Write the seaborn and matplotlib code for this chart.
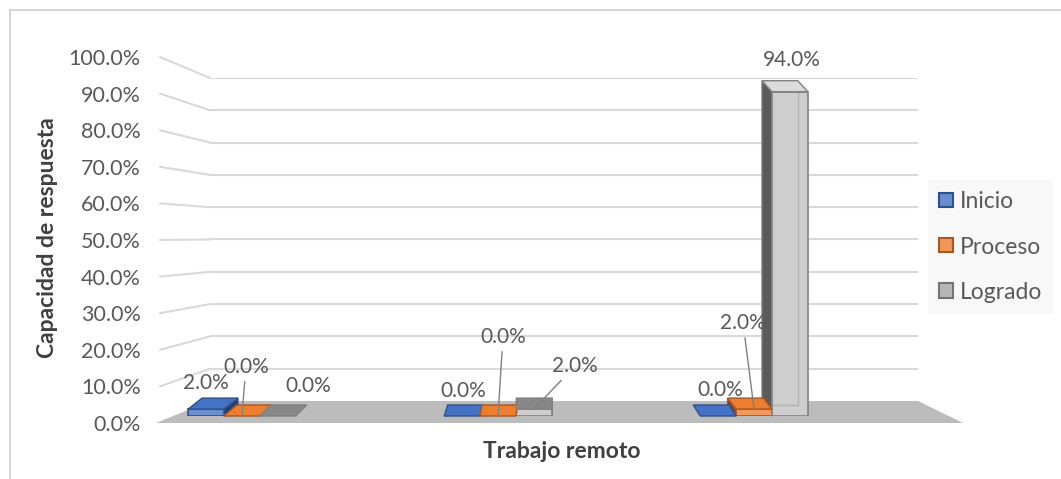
import numpy as np
import pandas as pd
import matplotlib
matplotlib.use("Agg")
import matplotlib.pyplot as plt
import matplotlib.colors as mcolors
from matplotlib.patches import Polygon, Patch, ConnectionPatch
from matplotlib.lines import Line2D
import seaborn as sns

# ---------------- data ----------------
categories = ["1", "2", "3"]
series = ["Inicio", "Proceso", "Logrado"]
inicio = [2.0, 0.0, 0.0]
proceso = [0.0, 0.0, 2.0]
logrado = [0.0, 2.0, 94.0]
y_ticks = [0, 10, 20, 30, 40, 50, 60, 70, 80, 90, 100]
y_tick_labels = ["0.0%", "10.0%", "20.0%", "30.0%", "40.0%", "50.0%",
                 "60.0%", "70.0%", "80.0%", "90.0%", "100.0%"]
y_title = "Capacidad de respuesta"
x_title = "Trabajo remoto"

# ---------------- style ----------------
colors = ["#4472C4", "#ED7D31", "#A5A5A5"]
front_mix = [0.2, 0.2, 0.45]
edge_mix = [0.3, 0.3, 0.22]
TEXT = "#595959"
FONT = ["Lato", "DejaVu Sans"]
FS_TICK = 15.5
FS_LABEL = 15
FS_LEG = 16.5
FS_TITLE = 16.5
# label offsets (pixels) relative to bar top, in order (category, series)
label_offsets = [(0, 26), (4, 49), (30, 30),
                 (1, 25), (5, 79), (41, 43),
                 (2, 26), (-11, 86), (2, 32)]
leaders = [False, True, False, False, True, True, False, True, False]

W, H = 1061, 479
sns.set_theme(style="white")
plt.rcParams["font.family"] = FONT

df = pd.DataFrame({
    "categoria": categories * 3,
    "serie": [s for s in series for _ in categories],
    "valor": inicio + proceso + logrado,
})


def mix(c, other, t):
    a = np.array(mcolors.to_rgb(c))
    b = np.array(mcolors.to_rgb(other))
    return tuple(a * (1 - t) + b * t)


def rect(x0, ytop, x1, ybot):
    return [x0 / W, 1 - ybot / H, (x1 - x0) / W, (ybot - ytop) / H]


fig = plt.figure(figsize=(W / 100, H / 100), dpi=100)
fig.patch.set_facecolor("white")

# back wall (gridlines)
ax_wall = fig.add_axes(rect(210, 78, 918, 401))
ax_wall.set_xlim(0, 1)
ax_wall.set_ylim(0, 100)
ax_wall.set_facecolor("none")
for v in y_ticks[1:]:
    ax_wall.axhline(v, color="#d9d9d9", lw=1.5, zorder=0)
ax_wall.set_xticks([])
ax_wall.set_yticks([])
for s in ax_wall.spines.values():
    s.set_visible(False)

# front axis with tick labels
ax_front = fig.add_axes(rect(160, 57, 210, 423))
ax_front.set_ylim(0, 100)
ax_front.set_xlim(0, 1)
ax_front.set_facecolor("none")
ax_front.set_yticks(y_ticks)
ax_front.set_yticklabels(y_tick_labels)
ax_front.set_xticks([])
ax_front.tick_params(axis="y", length=0, pad=14, labelsize=FS_TICK, labelcolor=TEXT)
for s in ax_front.spines.values():
    s.set_visible(False)

# slanted stubs linking front ticks to the back wall
for v in y_ticks[1:]:
    cp = ConnectionPatch(xyA=(0, v), coordsA=ax_front.transData,
                         xyB=(0, v), coordsB=ax_wall.transData,
                         color="#d9d9d9", lw=1.5, zorder=-1)
    fig.add_artist(cp)

# floor
floor_px = [(156, 423), (963, 423), (918, 401), (210, 401)]
fig.add_artist(Polygon([(x / W, 1 - y / H) for x, y in floor_px],
                       closed=True, transform=fig.transFigure,
                       facecolor="#bcbcbc", edgecolor="none", zorder=-1))

# chart border
fig.add_artist(Line2D([9.5 / W, 1], [1 - 10 / H, 1 - 10 / H], transform=fig.transFigure,
                      color="#d0d0d0", lw=1.2))
fig.add_artist(Line2D([9.5 / W, 9.5 / W], [0, 1 - 10 / H], transform=fig.transFigure,
                      color="#d0d0d0", lw=1.2))

# bars
ax_bar = fig.add_axes(rect(150, 71, 963, 416))
ax_bar.set_facecolor("none")
sns.barplot(data=df, x="categoria", y="valor", hue="serie", hue_order=series,
            palette=colors, width=0.42, saturation=1, legend=False, ax=ax_bar)
ax_bar.set_xlim(-0.359, 2.816)
ax_bar.set_ylim(0, 100)
ax_bar.axis("off")

fig.canvas.draw()
to_fig = fig.transFigure.inverted()
K, VP, DY = 0.041, 546.0, 11.0

patches = sorted(ax_bar.patches, key=lambda p: p.get_x())


def add_poly(pts, **kw):
    ax_bar.add_patch(Polygon(to_fig.transform(np.array(pts)), closed=True,
                             transform=fig.transFigure, clip_on=False, **kw))


def add_seg(p0, p1, **kw):
    pts = to_fig.transform(np.array([p0, p1]))
    ax_bar.add_line(Line2D(pts[:, 0], pts[:, 1], transform=fig.transFigure,
                           clip_on=False, **kw))


for i, p in enumerate(patches):
    hue = i % 3
    base = colors[hue]
    h = p.get_height()
    x0, y0 = ax_bar.transData.transform((p.get_x(), 0))
    x1, y1 = ax_bar.transData.transform((p.get_x() + p.get_width(), h))
    xc = (x0 + x1) / 2
    dx = K * (VP - xc)
    dy = DY
    edge = mix(base, "black", edge_mix[hue])
    front = mix(base, "white", front_mix[hue])
    tall = (y1 - y0) > 60
    if hue == 2:
        top = mix(base, "white", 0.6) if tall else mix(base, "black", 0.18)
    else:
        top = base
    side = mix(base, "black", 0.45)
    if h > 0:
        sx = x0 if dx < 0 else x1
        add_poly([(sx, y0), (sx, y1), (sx + dx, y1 + dy), (sx + dx, y0 + dy)],
                 facecolor=side, edgecolor=edge, lw=1.0, zorder=2)
        p.set_facecolor(front)
        p.set_edgecolor(edge)
        p.set_linewidth(1.2)
        p.set_zorder(3)
        # back edges seen through the front face
        bx = x1 + dx if dx < 0 else x0 + dx
        add_seg((bx, y0 + dy), (bx, y1 + dy), color=edge, lw=1.0, alpha=0.35, zorder=3.5)
        add_seg((x0 + dx, y0 + dy), (x1 + dx, y0 + dy), color=edge, lw=1.0,
                alpha=0.35, zorder=3.5)
    else:
        p.set_visible(False)
    add_poly([(x0, y1), (x1, y1), (x1 + dx, y1 + dy), (x0 + dx, y1 + dy)],
             facecolor=top, edgecolor=edge, lw=1.0, zorder=4)

    # data label
    ox, oy = label_offsets[i]
    kw = {}
    if leaders[i]:
        kw["arrowprops"] = dict(arrowstyle="-", color="#808080", lw=1.0,
                                shrinkA=1, shrinkB=0)
    ax_bar.annotate(f"{h:.1f}%", xy=(p.get_x() + p.get_width() / 2, h),
                    xytext=(ox, oy), textcoords="offset pixels",
                    ha="center", va="center", fontsize=FS_LABEL, color=TEXT,
                    annotation_clip=False, zorder=6, **kw)

# axis titles
fig.text(48 / W, 1 - 238 / H, y_title, rotation=90, ha="center", va="center",
         fontsize=FS_TITLE, fontweight="bold", color="#404040")
fig.text(562 / W, 1 - 452 / H, x_title, ha="center", va="center",
         fontsize=FS_TITLE, fontweight="bold", color="#404040")

# legend
handles = [Patch(facecolor=mix(c, "white", 0.2), edgecolor=mix(c, "black", 0.3), lw=1.5)
           for c in colors]
leg = fig.legend(handles, series, loc="upper left",
                 bbox_to_anchor=(928 / W, 1 - 180 / H), frameon=True,
                 facecolor="#f7f7f7", edgecolor="none", fancybox=False,
                 fontsize=FS_LEG, handlelength=0.57, handleheight=0.57,
                 labelspacing=1.05, handletextpad=0.3, borderpad=0.5,
                 borderaxespad=0)
for t in leg.get_texts():
    t.set_color(TEXT)
leg.get_frame().set_linewidth(0)

fig.savefig("out.png", dpi=100)
